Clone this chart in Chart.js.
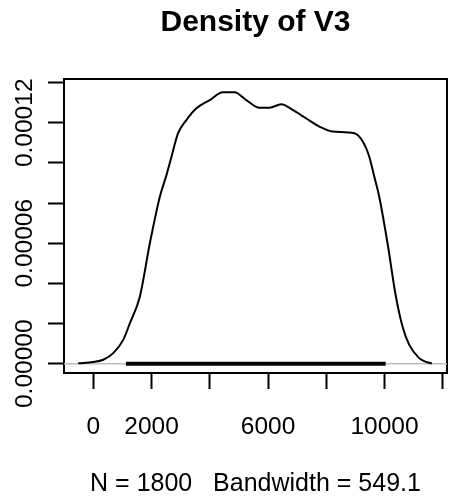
<!DOCTYPE html>
<html>
<head>
<meta charset="utf-8">
<script src="https://cdn.jsdelivr.net/npm/chart.js@4/dist/chart.umd.min.js"></script>
<style>
  html, body { margin: 0; padding: 0; background: #fff; }
  canvas { display: block; }
</style>
</head>
<body>
<canvas id="c" width="450" height="499"></canvas>
<script>
// kernel density of V3
const densX = [-517, 0, 342, 685, 1027, 1257, 1600, 1942, 2285, 2514, 2685, 2911, 3199, 3541, 3997,
  4452, 4853, 5253, 5709, 6052, 6453, 6850, 7309, 7764, 8221, 8963, 9258, 9477, 9648, 9819,
  10104, 10391, 10618, 10847, 11189, 11450, 11627];
const densY = [0.03e-5, 0.085e-5, 0.20e-5, 0.53e-5, 1.19e-5, 2.02e-5, 3.35e-5, 6.00e-5, 8.32e-5, 9.40e-5,
  10.31e-5, 11.48e-5, 12.14e-5, 12.72e-5, 13.13e-5, 13.52e-5, 13.52e-5, 13.13e-5, 12.75e-5, 12.75e-5,
  12.92e-5, 12.64e-5, 12.22e-5, 11.81e-5, 11.56e-5, 11.48e-5, 11.06e-5, 10.31e-5, 9.32e-5, 8.32e-5,
  6.00e-5, 3.35e-5, 1.86e-5, 0.95e-5, 0.28e-5, 0.08e-5, 0.03e-5];

// rug band (smallest and largest observation)
const rugX = [1120, 10040];

const xRange = [-1006, 12146];
const yRange = [-4.6e-6, 1.418e-4];
const xTicks = [0, 2000, 4000, 6000, 8000, 10000, 12000];
const yTicks = [0, 2e-5, 4e-5, 6e-5, 8e-5, 10e-5, 12e-5, 14e-5];
const xTickLabels = ['0', '2000', '6000', '10000'];
const yTickLabels = ['0.00000', '0.00006', '0.00012'];
const mainTitle = 'Density of V3';
const subTitle = 'N = 1800   Bandwidth = 549.1';

Chart.defaults.font.family = "'Liberation Sans', Arial, Helvetica, sans-serif";
Chart.defaults.color = '#000';

const curve = densX.map((x, i) => ({ x: x, y: densY[i] }));

// fixed axis box sizes, no extra padding from the labels
function fixBox(w, h) {
  return s => {
    if (w != null) s.width = w;
    if (h != null) s.height = h;
    s.paddingLeft = s.paddingRight = s.paddingTop = s.paddingBottom = 0;
  };
}

new Chart(document.getElementById('c'), {
  type: 'line',
  data: {
    datasets: [
      { label: 'density', data: curve, borderColor: '#000', borderWidth: 2, pointRadius: 0,
        cubicInterpolationMode: 'monotone', order: 0 },
      { label: 'rug', data: rugX.map(x => ({ x: x, y: 0 })), borderColor: '#000', borderWidth: 4,
        pointRadius: 0, order: 1 },
      { label: 'zero', data: xRange.map(x => ({ x: x, y: 0 })), borderColor: '#bebebe', borderWidth: 1.5,
        pointRadius: 0, order: 2 }
    ]
  },
  options: {
    responsive: false,
    animation: false,
    events: [],
    layout: { padding: 0 },
    plugins: { legend: { display: false }, title: { display: false }, tooltip: { enabled: false } },
    scales: {
      x: {
        type: 'linear', position: 'bottom', min: xRange[0], max: xRange[1],
        afterBuildTicks: s => { s.ticks = xTicks.map(v => ({ value: v })); },
        ticks: {
          autoSkip: false, minRotation: 0, maxRotation: 0,
          padding: 24, font: { size: 24.5 },
          callback: v => xTickLabels.includes(String(v)) ? String(v) : ''
        },
        grid: { drawOnChartArea: false, drawTicks: true, tickLength: 16, tickWidth: 2, tickColor: '#000' },
        border: { display: true, color: '#000', width: 2 },
        title: { display: true, text: subTitle, font: { size: 25 }, padding: { top: 0, bottom: 0 } },
        afterFit: fixBox(null, 126)
      },
      y: {
        type: 'linear', position: 'left', min: yRange[0], max: yRange[1],
        afterBuildTicks: s => { s.ticks = yTicks.map(v => ({ value: v })); },
        ticks: {
          autoSkip: false, minRotation: 90, maxRotation: 90,
          crossAlign: 'center', padding: -22, font: { size: 24.5 },
          callback: v => { const s = v.toFixed(5); return yTickLabels.includes(s) ? s : ''; }
        },
        grid: { drawOnChartArea: false, drawTicks: true, tickLength: 16, tickWidth: 2, tickColor: '#000' },
        border: { display: true, color: '#000', width: 2 },
        afterFit: fixBox(64, null)
      },
      x2: {
        type: 'linear', position: 'top',
        ticks: { display: false },
        grid: { display: false },
        border: { display: true, color: '#000', width: 2 },
        title: { display: true, text: mainTitle, font: { size: 30, weight: 'bold' }, padding: { top: 5, bottom: 0 } },
        afterFit: fixBox(null, 79)
      },
      y2: {
        type: 'linear', position: 'right',
        ticks: { display: false },
        grid: { display: false },
        border: { display: true, color: '#000', width: 2 },
        afterFit: fixBox(3, null)
      }
    }
  }
});
</script>
</body>
</html>
